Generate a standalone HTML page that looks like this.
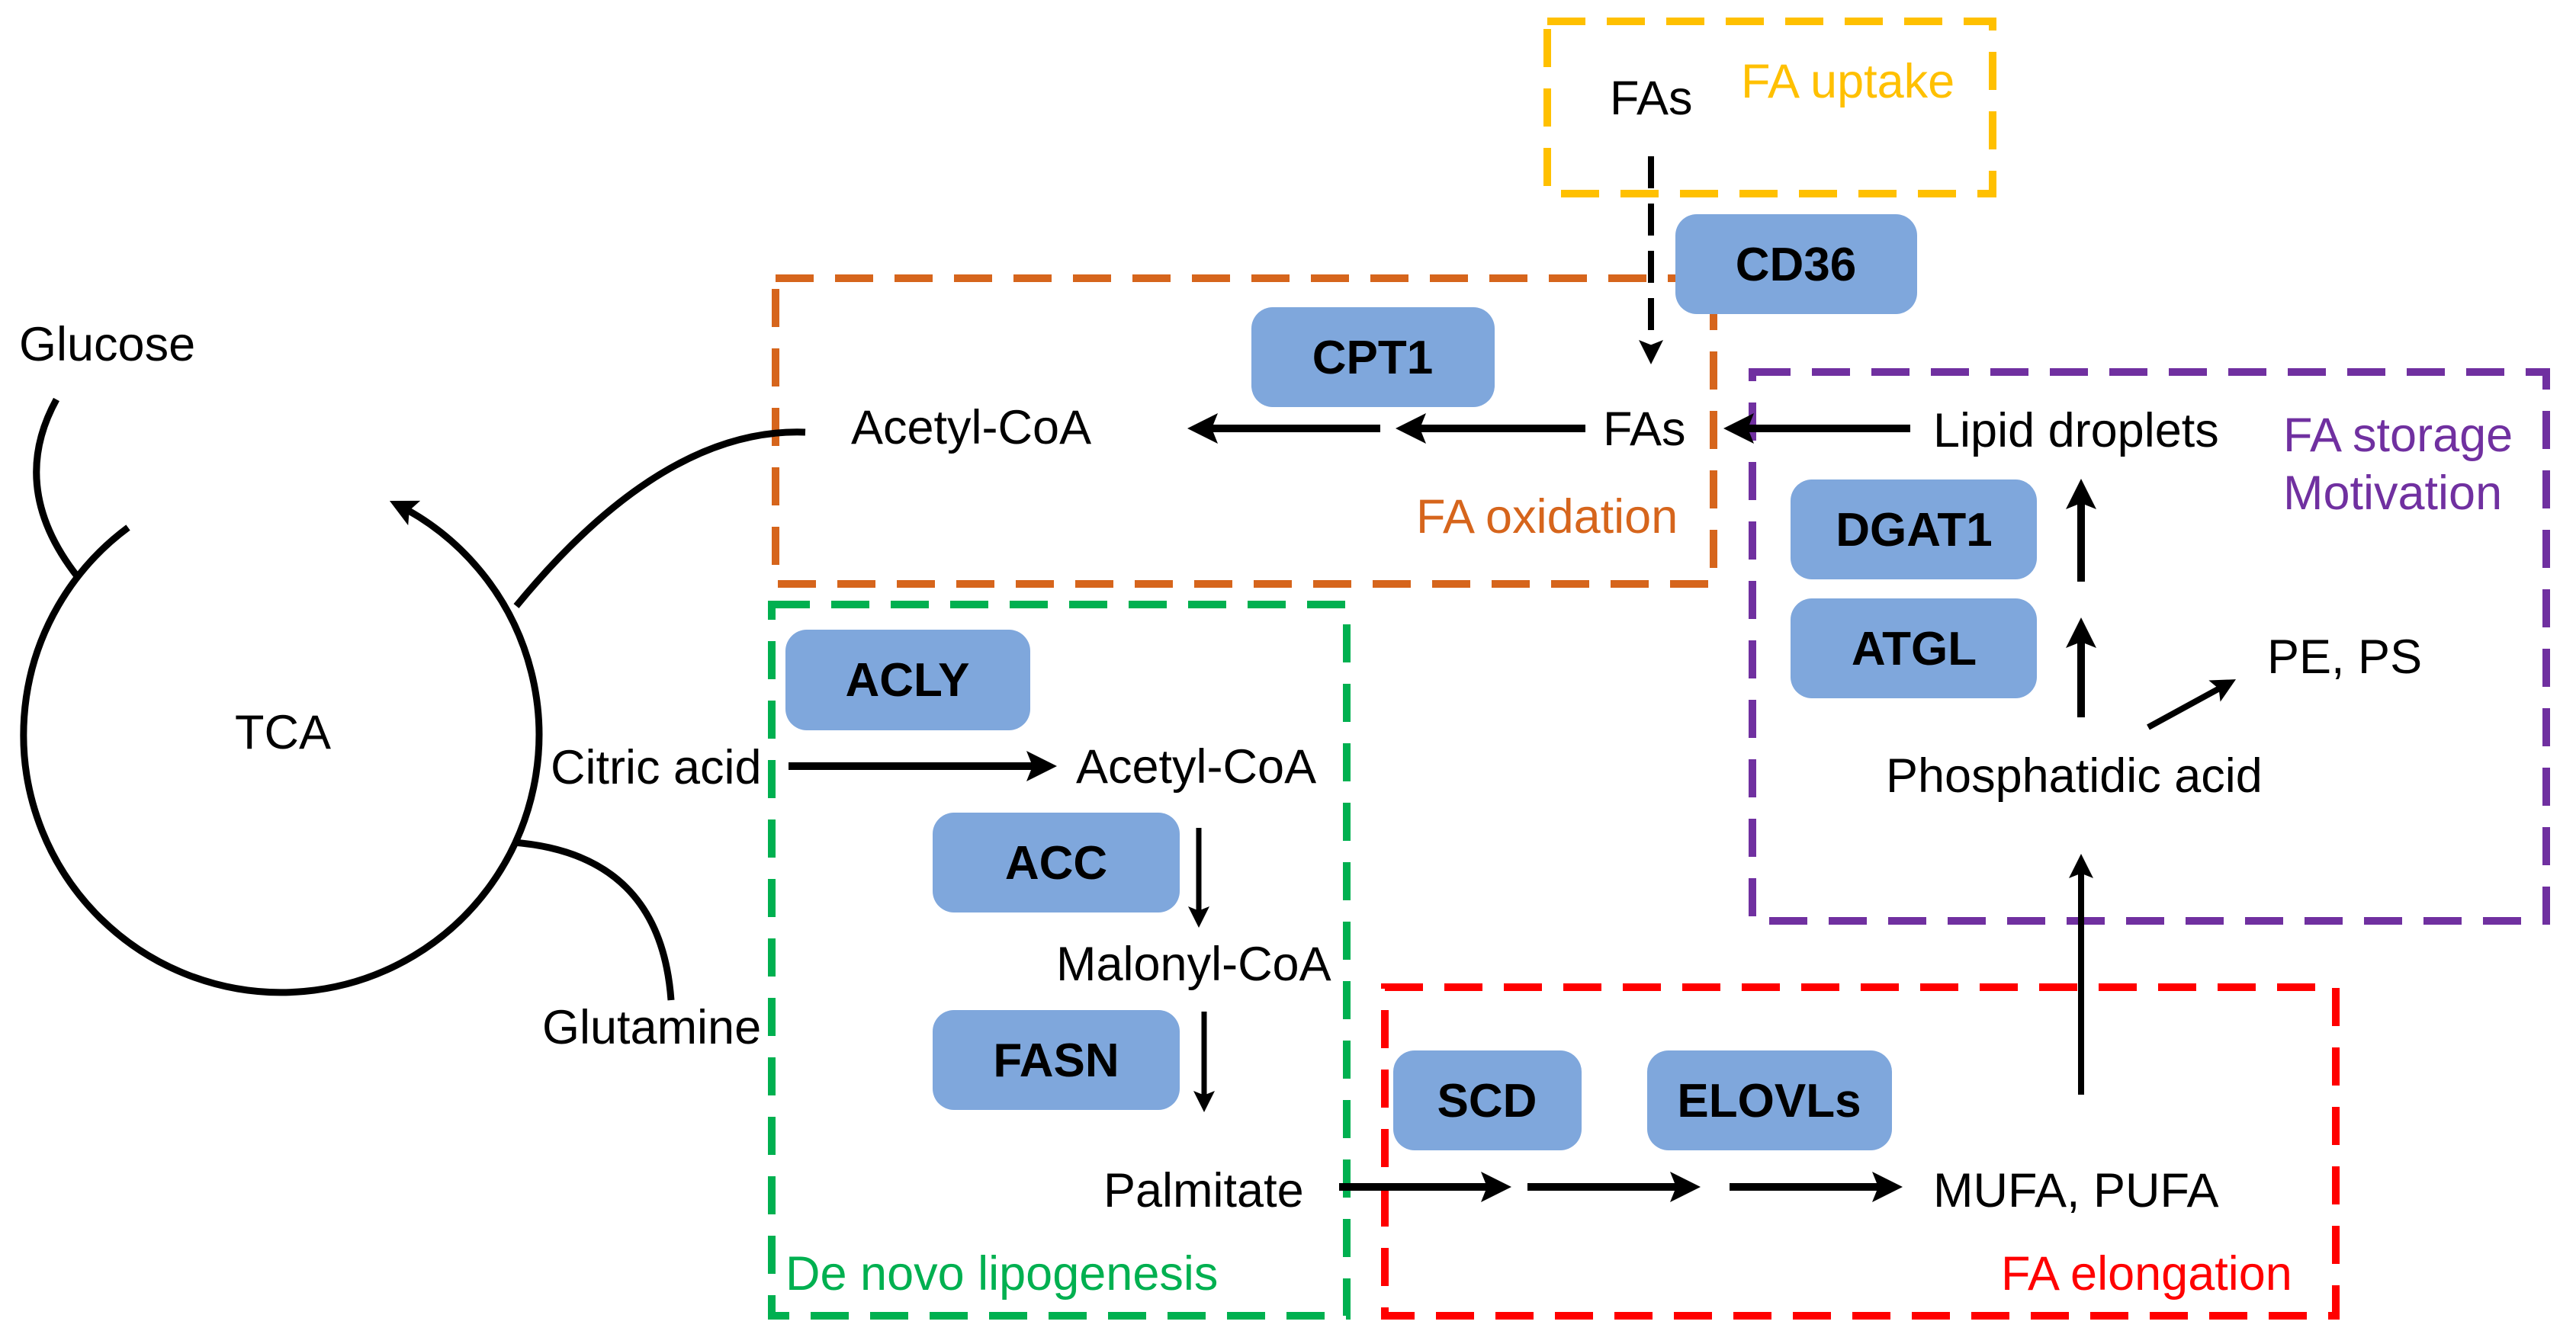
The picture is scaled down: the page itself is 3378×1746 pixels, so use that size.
<!DOCTYPE html>
<html><head><meta charset="utf-8"><style>
html,body{margin:0;padding:0;background:#fff;}
svg{display:block;}
text{font-family:"Liberation Sans",Arial,sans-serif;font-size:63px;}
.b{font-weight:bold;font-size:62px;}
</style></head><body>
<svg width="3378" height="1746" viewBox="0 0 3378 1746" xmlns="http://www.w3.org/2000/svg">
<defs>
<marker id="ah" markerWidth="4" markerHeight="4" refX="3" refY="2" orient="auto" markerUnits="strokeWidth">
<path d="M0,0 L4,2 L0,4 L0.8,2 Z" fill="#000"/>
</marker>
</defs>
<g fill="none" stroke-width="10" stroke-dasharray="50 28">
<rect x="2029" y="28" width="584" height="226" stroke="#FFC000"/>
<rect x="1017" y="365" width="1230" height="401" stroke="#D6651C"/>
<rect x="1012" y="793" width="754" height="933" stroke="#00B050"/>
<rect x="2298" y="488" width="1041" height="720" stroke="#7030A0"/>
<rect x="1816" y="1295" width="1247" height="431" stroke="#FF0000"/>
</g>
<g fill="#7FA7DC">
<rect x="2197" y="281" width="317" height="131" rx="28"/>
<rect x="1641" y="403" width="319" height="131" rx="28"/>
<rect x="2348" y="629" width="323" height="131" rx="28"/>
<rect x="2348" y="785" width="323" height="131" rx="28"/>
<rect x="1030" y="826" width="321" height="132" rx="28"/>
<rect x="1223" y="1066" width="324" height="131" rx="28"/>
<rect x="1223" y="1325" width="324" height="131" rx="28"/>
<rect x="1827" y="1378" width="247" height="131" rx="28"/>
<rect x="2160" y="1378" width="321" height="131" rx="28"/>
</g>
<g text-anchor="middle" class="b">
<text class="b" x="2355" y="368">CD36</text>
<text class="b" x="1800" y="490">CPT1</text>
<text class="b" x="2510" y="716">DGAT1</text>
<text class="b" x="2510" y="872">ATGL</text>
<text class="b" x="1190" y="913">ACLY</text>
<text class="b" x="1385" y="1153">ACC</text>
<text class="b" x="1385" y="1412">FASN</text>
<text class="b" x="1950" y="1465">SCD</text>
<text class="b" x="2320" y="1465">ELOVLs</text>
</g>
<!-- TCA cycle -->
<g fill="none" stroke="#000" stroke-width="9">
<path d="M168,692 A338,338 0 1 0 519,661" marker-end="url(#ah)"/>
<path d="M74,524 Q10,640 102,757"/>
<path d="M1056,567 Q870,560 677,795"/>
<path d="M673,1105 Q866,1120 880,1312"/>
</g>
<g stroke="#000" stroke-width="10" fill="none">
<line x1="2165" y1="205" x2="2165" y2="470" stroke-dasharray="42 20" stroke-width="8" marker-end="url(#ah)"/>
<line x1="2079" y1="562" x2="1840" y2="562" marker-end="url(#ah)"/>
<line x1="1810" y1="562" x2="1567" y2="562" marker-end="url(#ah)"/>
<line x1="2505" y1="562" x2="2270" y2="562" marker-end="url(#ah)"/>
<line x1="2729" y1="763" x2="2729" y2="638" marker-end="url(#ah)"/>
<line x1="2729" y1="941" x2="2729" y2="820" marker-end="url(#ah)"/>
<line x1="2817" y1="954" x2="2925" y2="895" marker-end="url(#ah)" stroke-width="8"/>
<line x1="2729" y1="1436" x2="2729" y2="1128" marker-end="url(#ah)" stroke-width="8"/>
<line x1="1034" y1="1005" x2="1376" y2="1005" marker-end="url(#ah)"/>
<line x1="1572" y1="1086" x2="1572" y2="1210" marker-end="url(#ah)" stroke-width="7"/>
<line x1="1579" y1="1327" x2="1579" y2="1452" marker-end="url(#ah)" stroke-width="7"/>
<line x1="1756" y1="1557" x2="1972" y2="1557" marker-end="url(#ah)"/>
<line x1="2003" y1="1557" x2="2220" y2="1557" marker-end="url(#ah)"/>
<line x1="2268" y1="1557" x2="2485" y2="1557" marker-end="url(#ah)"/>
</g>
<g fill="#000">
<text x="2111" y="150">FAs</text>
<text x="1116" y="582">Acetyl-CoA</text>
<text x="2102" y="584">FAs</text>
<text x="2535" y="586">Lipid droplets</text>
<text x="2973" y="883">PE, PS</text>
<text x="2473" y="1039">Phosphatidic acid</text>
<text x="25" y="473">Glucose</text>
<text x="308" y="982">TCA</text>
<text x="722" y="1028">Citric acid</text>
<text x="1411" y="1027">Acetyl-CoA</text>
<text x="1385" y="1286">Malonyl-CoA</text>
<text x="711" y="1369">Glutamine</text>
<text x="1447" y="1583">Palmitate</text>
<text x="2535" y="1583">MUFA, PUFA</text>
</g>
<text x="2283" y="128" fill="#FFC000">FA uptake</text>
<text x="1857" y="699" fill="#D6651C">FA oxidation</text>
<text x="2994" y="592" fill="#7030A0">FA storage</text>
<text x="2994" y="668" fill="#7030A0">Motivation</text>
<text x="1030" y="1692" fill="#00B050">De novo lipogenesis</text>
<text x="2624" y="1692" fill="#FF0000">FA elongation</text>
</svg>
</body></html>
